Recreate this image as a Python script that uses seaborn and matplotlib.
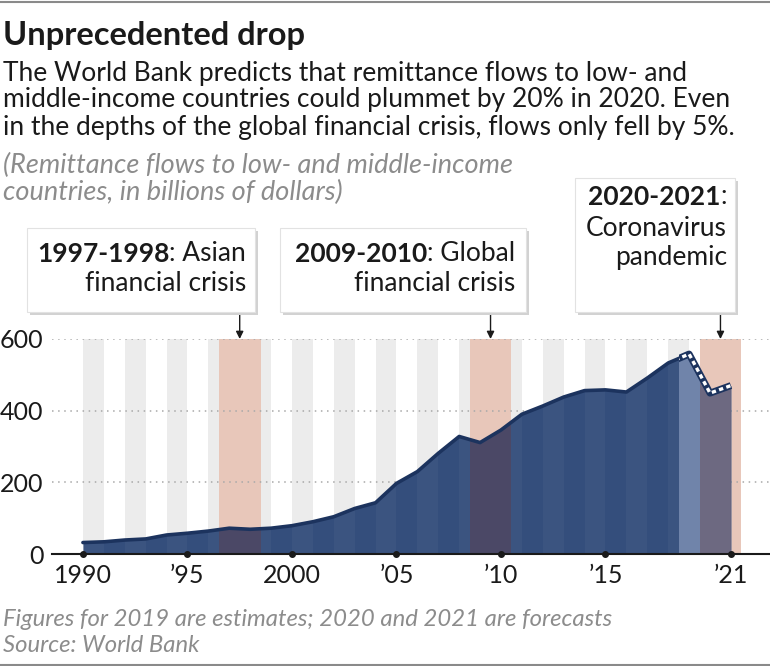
import matplotlib
matplotlib.use('Agg')  # Non-interactive backend

import matplotlib.pyplot as plt
from matplotlib.patches import Rectangle
from matplotlib.lines import Line2D
import numpy as np
import pandas as pd
import seaborn as sns

# Data (billions of dollars)
years = list(range(1990, 2022))
remittances = [32, 34, 39, 42, 53, 58, 64, 72, 69, 72, 79, 90, 104, 127, 143,
               197, 230, 281, 328, 311, 346, 390, 413, 438, 456, 458, 452, 491,
               533, 558, 449, 470]
last_actual_year = 2018
stripe_years = list(range(1990, 2019, 2))
crisis_spans = [(1996.5, 1998.5), (2008.5, 2010.5), (2019.5, 2021.5)]
estimate_span = (2018.5, 2019.5)
crisis_bold = ['1997-1998', '2009-2010', '2020-2021']
crisis_first_rest = [': Asian', ': Global', ':']
crisis_more_lines = [['financial crisis'], ['financial crisis'], ['Coronavirus', 'pandemic']]
xticks = [1990, 1995, 2000, 2005, 2010, 2015, 2021]
xtick_labels = ['1990', '\u201995', '2000', '\u201905', '\u201910', '\u201915', '\u201921']
yticks = [0, 200, 400, 600]

W, H = 770, 666
INK = '#1a1a1a'
GREY_TXT = '#8c8c8c'
BLUE = '#344e7c'
LINE = '#1c335e'

sns.set_theme(style='white')
plt.rcParams['font.family'] = ['Lato', 'DejaVu Sans']


def fx(px):
    return px / W


def fy(py):
    return 1 - py / H


fig = plt.figure(figsize=(W / 100, H / 100), dpi=100)
ax = fig.add_axes([fx(52), fy(554), (W - 52) / W, (554 - 339) / H])

df = pd.DataFrame({'year': years, 'value': remittances})

# background stripes and crisis bands
for y0 in stripe_years:
    ax.axvspan(y0, y0 + 1, color='#ececec', lw=0, zorder=0)
for a, b in crisis_spans:
    ax.axvspan(a, b, color='#e8c7ba', lw=0, zorder=0.2)

ax.set_axisbelow(True)
ax.yaxis.grid(True, linestyle=(0, (1, 3)), color='#a8a8a8', lw=1.1)
ax.xaxis.grid(False)

# area
area = ax.fill_between(df['year'], 0, df['value'], color=BLUE, lw=0, zorder=1)
area_path = area.get_paths()[0]


def clipped_span(a, b, color, alpha=1.0):
    span = ax.axvspan(a, b, color=color, alpha=alpha, lw=0, zorder=1.2)
    span.set_clip_path(area_path, ax.transData)


for y0 in stripe_years:
    clipped_span(y0, y0 + 1, 'white', 0.035)
for a, b in crisis_spans[:2]:
    clipped_span(a, b, '#4b4866')
clipped_span(estimate_span[0], estimate_span[1], '#7084aa')
clipped_span(crisis_spans[2][0], crisis_spans[2][1], '#6d6981')

# solid line for actuals, dotted for estimate/forecast
left_clip = Rectangle((1980, -100), estimate_span[0] - 1980, 1000, transform=ax.transData)
right_clip = Rectangle((estimate_span[0], -100), 10, 1000, transform=ax.transData)

actual = df[df['year'] <= last_actual_year + 1]
sns.lineplot(data=actual, x='year', y='value', color=LINE, lw=2.6, ax=ax, zorder=3)
ax.lines[-1].set_clip_path(left_clip)

fcast = df[df['year'] >= last_actual_year]
l1, = ax.plot(fcast['year'], fcast['value'], color=LINE, lw=5.0, zorder=3,
              solid_capstyle='butt')
l2, = ax.plot(fcast['year'], fcast['value'], color='white', lw=2.4, zorder=3.1,
              dashes=(1.3, 1.0), dash_capstyle='butt')
l1.set_clip_path(right_clip)
l2.set_clip_path(right_clip)

# axes styling
ax.set_xlim(1988.52, 2022.87)
ax.set_ylim(0, 600)
ax.set_xticks(xticks, xtick_labels)
ax.set_yticks(yticks)
ax.set_xlabel('')
ax.set_ylabel('')
ax.tick_params(axis='x', length=0, pad=7, labelsize=18, colors=INK)
ax.tick_params(axis='y', length=0, pad=6, labelsize=18, colors=INK)
for side in ['left', 'top', 'right']:
    ax.spines[side].set_visible(False)
ax.spines['bottom'].set_color(INK)
ax.spines['bottom'].set_linewidth(1.5)
ax.spines['bottom'].set_zorder(4)
ax.scatter(xticks, [0] * len(xticks), s=16, color=INK, zorder=5, clip_on=False)

# annotation boxes
box_rects = [(27, 228, 255, 312), (280, 228, 526, 312), (575, 178, 735, 312)]
text_right = [246, 515, 727]
line_ys = [[254, 284], [254, 284], [197, 228, 258]]
renderer = fig.canvas.get_renderer()

for i, (x0, y0, x1, y1) in enumerate(box_rects):
    shadow = Rectangle((fx(x0 + 3), fy(y1 + 3)), fx(x1 - x0), (y1 - y0) / H,
                       transform=fig.transFigure, color='#d2d2d2', lw=0, zorder=6)
    box = Rectangle((fx(x0), fy(y1)), fx(x1 - x0), (y1 - y0) / H,
                    transform=fig.transFigure, facecolor='white',
                    edgecolor='#e2e2e2', lw=0.8, zorder=7)
    fig.add_artist(shadow)
    fig.add_artist(box)

    ys = line_ys[i]
    rest = fig.text(fx(text_right[i]), fy(ys[0]), crisis_first_rest[i],
                    ha='right', va='center', fontsize=19, color=INK, zorder=8)
    bb = rest.get_window_extent(renderer)
    fig.text(bb.x0 / W, fy(ys[0]), crisis_bold[i], ha='right', va='center',
             fontsize=19, fontweight='bold', color=INK, zorder=8)
    for txt, yy in zip(crisis_more_lines[i], ys[1:]):
        fig.text(fx(text_right[i]), fy(yy), txt, ha='right', va='center',
                 fontsize=19, color=INK, zorder=8)

    xc = (crisis_spans[i][0] + crisis_spans[i][1]) / 2
    ax.annotate('', xy=(xc, 600), xycoords='data',
                xytext=(xc, fy(y1)), textcoords=('data', 'figure fraction'),
                arrowprops=dict(arrowstyle='-|>', color=INK, lw=1,
                                mutation_scale=11, shrinkA=0, shrinkB=0),
                annotation_clip=False, zorder=8)

# titles and notes
fig.text(fx(3), fy(35), 'Unprecedented drop', ha='left', va='center',
         fontsize=23.5, fontweight='bold', color=INK)
subtitle = ['The World Bank predicts that remittance flows to low- and',
            'middle-income countries could plummet by 20% in 2020. Even',
            'in the depths of the global financial crisis, flows only fell by 5%.']
for txt, yy in zip(subtitle, [73, 100, 128]):
    fig.text(fx(3), fy(yy), txt, ha='left', va='center', fontsize=19, color=INK)
for txt, yy in zip(['(Remittance flows to low- and middle-income',
                    'countries, in billions of dollars)'], [165, 192]):
    fig.text(fx(3), fy(yy), txt, ha='left', va='center', fontsize=19.5,
             style='italic', color=GREY_TXT)
for txt, yy in zip(['Figures for 2019 are estimates; 2020 and 2021 are forecasts',
                    'Source: World Bank'], [620, 645]):
    fig.text(fx(3), fy(yy), txt, ha='left', va='center', fontsize=17.2,
             style='italic', color=GREY_TXT)

fig.add_artist(Line2D([0, 1], [fy(1.5), fy(1.5)], color='#8a8a8a', lw=1.5))
fig.add_artist(Line2D([0, 1], [fy(664.5), fy(664.5)], color='#8a8a8a', lw=1.5))

fig.savefig('out.png', dpi=100)
print('Saved: out.png')
